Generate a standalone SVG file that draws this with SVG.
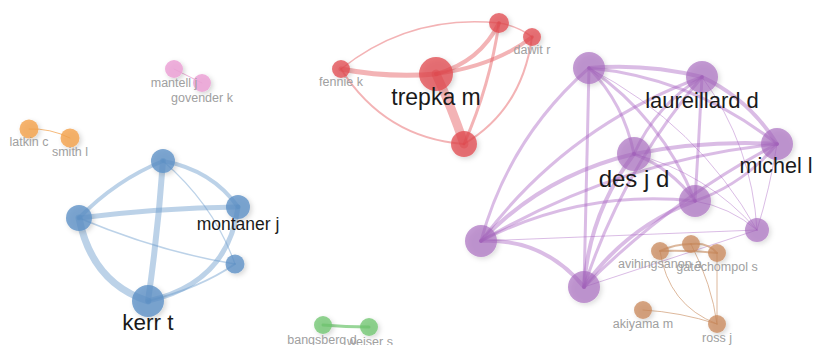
<svg xmlns="http://www.w3.org/2000/svg" width="815" height="345" viewBox="0 0 815 345">
<defs>
<filter id="sh" x="-50%" y="-50%" width="200%" height="200%">
<feDropShadow dx="2" dy="2" stdDeviation="2.5" flood-color="#000" flood-opacity="0.2"/>
</filter>
<style>
path{fill:none;stroke-linecap:round}
.eb{stroke:#6b9ccc;stroke-opacity:0.45}
.er{stroke:#e5565a;stroke-opacity:0.45}
.ep{stroke:#a85fc0;stroke-opacity:0.42}
.en{stroke:#cf9a72;stroke-opacity:0.7}
.eg{stroke:#6cc46c;stroke-opacity:0.7}
.ek{stroke:#e390c8;stroke-opacity:0.7}
.eo{stroke:#f4a95a;stroke-opacity:0.8}
circle{filter:url(#sh)}
.nb{fill:#5b8fc5;fill-opacity:0.78}
.nr{fill:#e0474c;fill-opacity:0.75}
.np{fill:#a566bd;fill-opacity:0.65}
.nn{fill:#c8875a;fill-opacity:0.75}
.ng{fill:#6cc46c;fill-opacity:0.75}
.nk{fill:#eca2d6;fill-opacity:0.85}
.no{fill:#f4a14a;fill-opacity:0.8}
text{font-family:"Liberation Sans",Arial,sans-serif;text-anchor:middle}
.big{fill:#1a1a1a}
.sm{fill:#a0a0a0;font-size:12.5px}
</style>
</defs>
<rect width="815" height="345" fill="#fff"/>
<g id="connectors">
<!-- blue -->
<path class="eb" stroke-width="4" d="M163,161 Q116,180 79,218"/>
<path class="eb" stroke-width="4" d="M163,161 Q212,170 238,207"/>
<path class="eb" stroke-width="6" d="M163,161 Q158,232 148,301"/>
<path class="eb" stroke-width="1.2" d="M163,161 Q214,205 235,264"/>
<path class="eb" stroke-width="5" d="M79,218 Q158,208 238,207"/>
<path class="eb" stroke-width="7" d="M79,218 Q92,283 148,301"/>
<path class="eb" stroke-width="1.5" d="M79,218 Q160,252 235,264"/>
<path class="eb" stroke-width="5" d="M238,207 Q228,283 148,301"/>
<path class="eb" stroke-width="2" d="M148,301 Q200,288 235,264"/>
<!-- red -->
<path class="er" stroke-width="5" d="M341,69 Q388,78 436,74"/>
<path class="er" stroke-width="1.5" d="M341,69 Q410,14 499,23"/>
<path class="er" stroke-width="2" d="M341,69 Q385,138 464,144"/>
<path class="er" stroke-width="4" d="M436,74 Q480,62 499,23"/>
<path class="er" stroke-width="4" d="M436,74 Q495,66 532,37"/>
<path class="er" stroke-width="9" d="M436,74 Q452,108 464,144"/>
<path class="er" stroke-width="3" d="M499,23 Q490,85 464,144"/>
<path class="er" stroke-width="2" d="M532,37 Q522,110 464,144"/>
<path class="er" stroke-width="1.5" d="M499,23 Q518,26 532,37"/>
<!-- purple -->
<path class="ep" stroke-width="3" d="M481,241 Q509,138 589,68"/>
<path class="ep" stroke-width="3" d="M481,241 Q567,126 702,77"/>
<path class="ep" stroke-width="3" d="M481,241 Q620,160 777,144"/>
<path class="ep" stroke-width="4" d="M481,241 Q544,175 634,154"/>
<path class="ep" stroke-width="3" d="M481,241 Q582,189 695,201"/>
<path class="ep" stroke-width="1" d="M481,241 L757,230"/>
<path class="ep" stroke-width="4" d="M481,241 Q544,238 584,287"/>
<path class="ep" stroke-width="3" d="M584,287 Q587,177 589,68"/>
<path class="ep" stroke-width="3" d="M584,287 Q622,170 702,77"/>
<path class="ep" stroke-width="3" d="M584,287 Q670,200 777,144"/>
<path class="ep" stroke-width="4" d="M584,287 Q589,213 634,154"/>
<path class="ep" stroke-width="4" d="M584,287 Q626,227 695,201"/>
<path class="ep" stroke-width="1" d="M584,287 L757,230"/>
<path class="ep" stroke-width="4" d="M589,68 Q646,63 702,77"/>
<path class="ep" stroke-width="3" d="M589,68 Q694,78 777,144"/>
<path class="ep" stroke-width="3" d="M589,68 Q624,104 634,154"/>
<path class="ep" stroke-width="3" d="M589,68 Q662,118 695,201"/>
<path class="ep" stroke-width="1" d="M589,68 Q697,124 757,230"/>
<path class="ep" stroke-width="4" d="M702,77 Q749,99 777,144"/>
<path class="ep" stroke-width="3" d="M702,77 Q656,105 634,154"/>
<path class="ep" stroke-width="3" d="M702,77 Q699,139 695,201"/>
<path class="ep" stroke-width="1" d="M702,77 Q752,145 757,230"/>
<path class="ep" stroke-width="4" d="M777,144 Q705,140 634,154"/>
<path class="ep" stroke-width="3" d="M777,144 Q744,184 695,201"/>
<path class="ep" stroke-width="1" d="M777,144 Q770,188 757,230"/>
<path class="ep" stroke-width="3" d="M634,154 Q671,168 695,201"/>
<path class="ep" stroke-width="1" d="M634,154 Q707,173 757,230"/>
<path class="ep" stroke-width="1" d="M695,201 Q730,207 757,230"/>
<!-- brown -->
<path class="en" stroke-width="2" d="M660,251 Q675,244 691,244"/>
<path class="en" stroke-width="2" d="M660,251 Q690,250 717,253"/>
<path class="en" stroke-width="2" d="M691,244 Q708,242 717,253"/>
<path class="en" stroke-width="1" d="M660,251 Q668,305 717,324"/>
<path class="en" stroke-width="1" d="M691,244 Q712,285 717,324"/>
<path class="en" stroke-width="1" d="M717,253 L717,324"/>
<path class="en" stroke-width="1" d="M643,310 Q680,312 717,324"/>
<!-- green, pink, orange -->
<path class="eg" stroke-width="3" d="M323,325 Q346,327 369,327"/>
<path class="ek" stroke-width="1" d="M174,69 L202,83"/>
<path class="eo" stroke-width="1" d="M29,129 Q50,128 70,138"/>
</g>
<g id="n_blue_top"><circle class="nb" cx="163" cy="161" r="12"/></g>
<g id="n_blue_left"><circle class="nb" cx="79" cy="218" r="13"/></g>
<g id="n_montaner"><circle class="nb" cx="238" cy="207" r="12"/></g>
<g id="n_blue_small"><circle class="nb" cx="235" cy="264" r="9.5"/></g>
<g id="n_kerr"><circle class="nb" cx="148" cy="301" r="16"/></g>
<g id="n_fennie"><circle class="nr" cx="341" cy="69" r="9"/></g>
<g id="n_trepka"><circle class="nr" cx="436" cy="74" r="17"/></g>
<g id="n_red_top"><circle class="nr" cx="499" cy="23" r="10"/></g>
<g id="n_dawit"><circle class="nr" cx="532" cy="37" r="9"/></g>
<g id="n_red_bottom"><circle class="nr" cx="464" cy="144" r="13"/></g>
<g id="n_p_a"><circle class="np" cx="589" cy="68" r="16"/></g>
<g id="n_laureillard"><circle class="np" cx="702" cy="77" r="16"/></g>
<g id="n_michel"><circle class="np" cx="777" cy="144" r="16"/></g>
<g id="n_des"><circle class="np" cx="634" cy="154" r="17"/></g>
<g id="n_p_e"><circle class="np" cx="695" cy="201" r="16"/></g>
<g id="n_p_f"><circle class="np" cx="757" cy="230" r="12"/></g>
<g id="n_p_g"><circle class="np" cx="481" cy="241" r="16"/></g>
<g id="n_p_h"><circle class="np" cx="584" cy="287" r="16"/></g>
<g id="n_avihingsanon"><circle class="nn" cx="660" cy="251" r="9"/></g>
<g id="n_brown_mid"><circle class="nn" cx="691" cy="244" r="9"/></g>
<g id="n_gatechompol"><circle class="nn" cx="717" cy="253" r="9"/></g>
<g id="n_akiyama"><circle class="nn" cx="643" cy="310" r="9"/></g>
<g id="n_ross"><circle class="nn" cx="717" cy="324" r="9"/></g>
<g id="n_bangsberg"><circle class="ng" cx="323" cy="325" r="9"/></g>
<g id="n_weiser"><circle class="ng" cx="369" cy="327" r="9"/></g>
<g id="n_mantell"><circle class="nk" cx="174" cy="69" r="9"/></g>
<g id="n_govender"><circle class="nk" cx="202" cy="83" r="9"/></g>
<g id="n_latkin"><circle class="no" cx="29" cy="129" r="9.5"/></g>
<g id="n_smith"><circle class="no" cx="70" cy="138" r="9.5"/></g>
<g id="labels">
<text class="big" x="148" y="330" font-size="22.5">kerr t</text>
<text class="big" x="238" y="230" font-size="17.5">montaner j</text>
<text class="big" x="436" y="105" font-size="23">trepka m</text>
<text class="big" x="702" y="108" font-size="22">laureillard d</text>
<text class="big" x="776" y="173" font-size="21.5">michel l</text>
<text class="big" x="634" y="187" font-size="24">des j d</text>
<text class="sm" x="341" y="86">fennie k</text>
<text class="sm" x="532" y="54">dawit r</text>
<text class="sm" x="174" y="87">mantell j</text>
<text class="sm" x="202" y="102">govender k</text>
<text class="sm" x="29" y="146">latkin c</text>
<text class="sm" x="70" y="156">smith l</text>
<text class="sm" x="660" y="268">avihingsanon a</text>
<text class="sm" x="717" y="271">gatechompol s</text>
<text class="sm" x="643" y="328">akiyama m</text>
<text class="sm" x="717" y="342">ross j</text>
<text class="sm" x="322" y="344">bangsberg d</text>
<text class="sm" x="370" y="346">weiser s</text>
</g>
</svg>
